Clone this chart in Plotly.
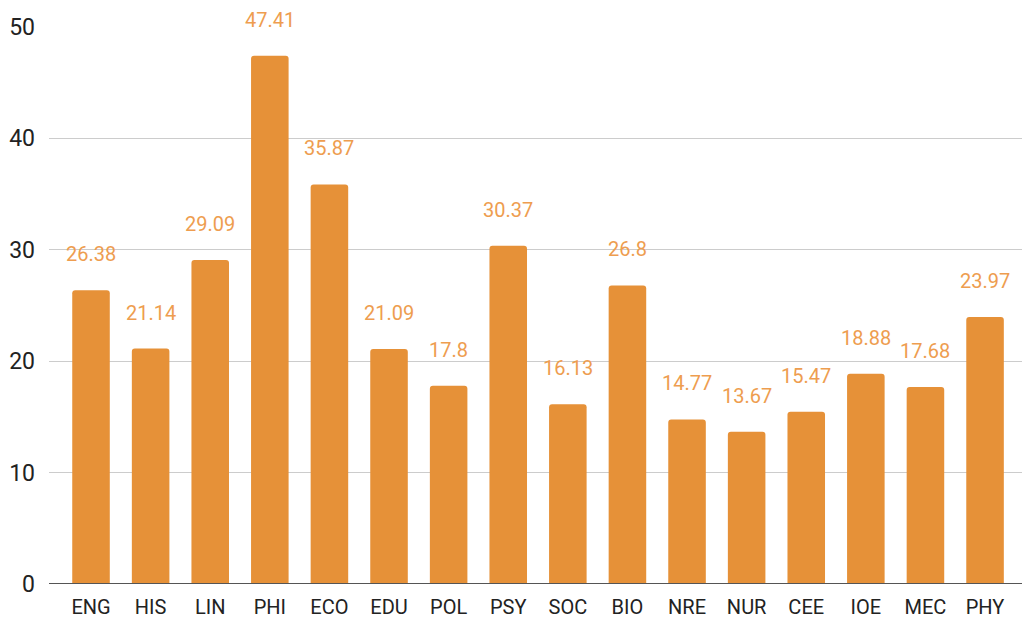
import plotly.graph_objects as go

categories = ["ENG", "HIS", "LIN", "PHI", "ECO", "EDU", "POL", "PSY", "SOC", "BIO",
              "NRE", "NUR", "CEE", "IOE", "MEC", "PHY"]
values = [26.38, 21.14, 29.09, 47.41, 35.87, 21.09, 17.8, 30.37, 16.13, 26.8,
          14.77, 13.67, 15.47, 18.88, 17.68, 23.97]
labels = ["26.38", "21.14", "29.09", "47.41", "35.87", "21.09", "17.8", "30.37", "16.13", "26.8",
          "14.77", "13.67", "15.47", "18.88", "17.68", "23.97"]
y_ticks = [0, 10, 20, 30, 40, 50]

ORANGE = "#E69138"

fig = go.Figure()
fig.add_trace(go.Bar(
    x=list(range(len(categories))), y=values,
    marker=dict(color=ORANGE, cornerradius=3, line=dict(width=0)),
    width=0.63, hoverinfo="skip",
))

for i, (v, t) in enumerate(zip(values, labels)):
    fig.add_annotation(x=i, y=v, text=t, showarrow=False, yshift=36,
                       yanchor="middle", xanchor="center",
                       font=dict(family="Roboto", size=20, color="#EE9D4F"))

fig.update_layout(
    width=1022, height=621,
    margin=dict(l=49, r=0, t=27, b=37),
    plot_bgcolor="white", paper_bgcolor="white",
    showlegend=False,
    bargap=0.37,
    xaxis=dict(
        range=[-0.705, 15.62],
        tickmode="array", tickvals=list(range(len(categories))), ticktext=categories,
        showgrid=False, zeroline=False, showline=False, ticks="",
        ticklabelstandoff=9,
        tickfont=dict(family="Roboto", size=20, color="#222222"),
    ),
    yaxis=dict(
        range=[0, 50], tickmode="array", tickvals=y_ticks,
        showgrid=True, gridcolor="#CCCCCC", gridwidth=1,
        zeroline=False, showline=False, ticks="",
        ticklabelstandoff=13,
        tickfont=dict(family="Roboto", size=23, color="#222222"),
    ),
)
fig.add_shape(type="line", xref="paper", yref="y", x0=0, x1=1, y0=0, y1=0,
              line=dict(color="#555555", width=2))

fig.write_html("out.html")
